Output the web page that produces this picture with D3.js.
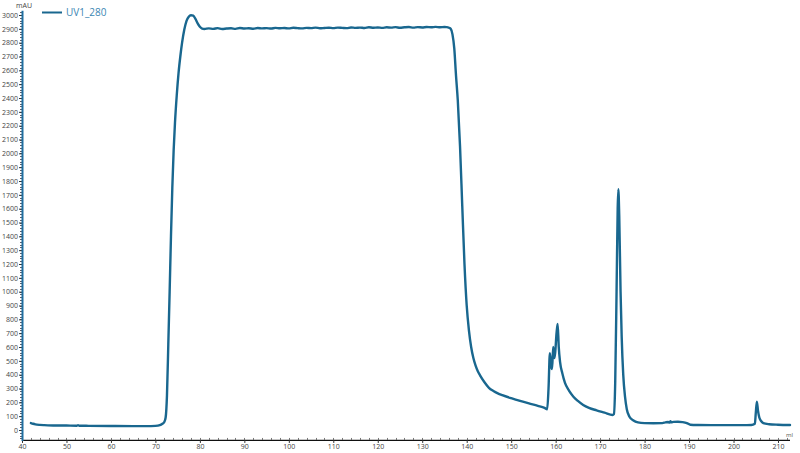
<!DOCTYPE html>
<html>
<head>
<meta charset="utf-8">
<script src="https://cdn.jsdelivr.net/npm/d3@7"></script>
<style>
  html, body { margin: 0; padding: 0; background: #ffffff; }
  svg { display: block; }
  text { font-family: "Open Sans", "Noto Sans", sans-serif; }
</style>
</head>
<body>
<svg id="chart" width="800" height="453"></svg>
<script>
// ---- data ----
const seriesName = "UV1_280";
const yUnit = "mAU";
const xUnit = "ml";
const yTickValues = d3.range(0, 3001, 100);
const xTickValues = d3.range(40, 211, 10);

const volume = [
  42, 42.5, 43, 44, 45, 47, 50, 52.3, 52.6, 52.9, 55, 60, 65, 68, 70, 71, 71.5, 72, 72.3, 72.6,
  72.9, 73.2, 73.5, 73.8, 74.1, 74.4, 74.8, 75.2, 75.6, 76, 76.5, 77, 77.5, 78, 78.5, 79, 79.5, 80, 80.5,
  81, 82, 83, 84, 85, 86, 87, 88, 89, 90, 91, 92, 93, 94, 95, 96, 97, 98, 99, 100,
  101, 102, 103, 104, 105, 106, 107, 108, 109, 110, 111, 112, 113, 114, 115, 116, 117, 118, 119, 120,
  121, 122, 123, 124, 125, 126, 127, 128, 129, 130, 131, 132, 133, 134, 135, 135.5,
  136, 136.4, 136.8, 137.2, 137.6, 138, 138.5, 139, 139.5, 140, 140.5, 141, 141.5, 142, 142.5, 143, 144,
  145, 146, 147, 148, 150, 152, 154, 156, 157.5, 158.1, 158.4, 158.7, 158.95, 159.2, 159.45, 159.7,
  159.9, 160.2, 160.45, 160.7, 161, 161.5, 162.1, 163, 164, 165, 166.2, 167.5, 169.2, 171, 172.8,
  173.1, 173.4, 173.7, 173.95, 174.1, 174.3, 174.6, 174.85, 175.2, 175.6, 176, 176.6, 177.5, 178.5,
  180, 182, 184, 184.7, 185.3, 185.6, 185.8, 186, 186.5, 187.5, 188.5, 189.5, 190.3, 192, 195, 200,
  204, 204.8, 205, 205.25, 205.5, 205.8, 206.2, 206.7, 208, 210, 212.7
];

const absorbance = [
  50, 45, 41, 37, 35, 33, 32, 31, 34, 31, 30, 29, 28, 28, 30, 36, 44, 58, 90, 250,
  620, 1000, 1400, 1750, 2020, 2220, 2420, 2580, 2700, 2800, 2895, 2958, 2988, 2998, 2995, 2972, 2940, 2915, 2902,
  2899, 2903, 2900, 2905, 2899, 2902, 2904, 2900, 2906, 2902, 2904, 2901, 2906, 2903, 2905, 2902, 2907, 2904, 2906, 2903,
  2908, 2905, 2903, 2907, 2905, 2909, 2904, 2906, 2908, 2905, 2909, 2907, 2905, 2910, 2907, 2909, 2906, 2911, 2908, 2910,
  2907, 2911, 2909, 2912, 2908, 2911, 2913, 2909, 2912, 2910, 2913, 2911, 2914, 2911, 2913, 2912,
  2908, 2900, 2860, 2760, 2560, 2380, 2050, 1620, 1200, 900, 720, 600, 520, 465, 425, 395, 345,
  305, 282, 265, 252, 230, 210, 192, 175, 160, 150, 300, 555, 470, 440, 600, 520,
  560, 700, 766, 600, 490, 410, 340, 285, 241, 210, 181, 160, 142, 125, 108,
  115, 350, 1000, 1600, 1740, 1550, 1000, 675, 400, 241, 150, 96, 68, 55,
  50, 49, 50, 55, 58, 53, 64, 55, 59, 60, 57, 50, 38, 36, 35, 35,
  36, 45, 120, 205, 140, 90, 65, 50, 42, 38, 36
];

// ---- chart ----
const lineColor = "#19678f";
const svg = d3.select("#chart");

const x = d3.scaleLinear().domain([40, 212.7]).range([22, 790]);
const y = d3.scaleLinear().domain([0, 3000]).range([430, 15]);

const points = volume.map((v, i) => ({ v, a: absorbance[i] }));

// X axis
const xAxisY = y(-72);
const gx = svg.append("g").attr("transform", `translate(0,${xAxisY})`);
gx.append("line").attr("x1", x(40)).attr("x2", x(212.7)).attr("y1", 0.5).attr("y2", 0.5)
  .attr("stroke", "#111").attr("stroke-width", 1.2);
gx.selectAll("line.minor").data(d3.range(40, 213, 2)).join("line")
  .attr("class", "minor")
  .attr("x1", d => Math.round(x(d)) + 0.5).attr("x2", d => Math.round(x(d)) + 0.5)
  .attr("y1", -2).attr("y2", 0).attr("stroke", "#555").attr("stroke-width", 0.8);
const xAxis = d3.axisBottom(x).tickValues(xTickValues).tickSize(3).tickFormat(d3.format("d"));
const gxa = gx.append("g").call(xAxis);
gxa.select(".domain").remove();
gxa.selectAll(".tick line").attr("stroke", "#333");
gxa.selectAll(".tick text").attr("fill", "#444").attr("font-size", 7).attr("dy", "0.5em");
gx.append("text").attr("x", 786).attr("y", -3).attr("font-size", 6).attr("fill", "#555").text(xUnit);

// Y axis
const axisX = x(40);
const gy = svg.append("g");
gy.selectAll("line.minor").data(d3.range(-60, 3031, 20)).join("line")
  .attr("class", "minor")
  .attr("x1", axisX - 2).attr("x2", axisX)
  .attr("y1", d => Math.round(y(d)) + 0.5).attr("y2", d => Math.round(y(d)) + 0.5)
  .attr("stroke", "#334").attr("stroke-width", 0.8);
const yAxis = d3.axisLeft(y).tickValues(yTickValues).tickSize(3).tickFormat(d3.format("d"));
const gya = gy.append("g").attr("transform", `translate(${axisX},0)`).call(yAxis);
gya.select(".domain").remove();
gya.selectAll(".tick line").attr("stroke", "#333");
gya.selectAll(".tick text").attr("fill", "#444").attr("font-size", 7).attr("x", -4);
gy.append("line").attr("x1", axisX + 0.5).attr("x2", axisX + 0.5)
  .attr("y1", y(3030)).attr("y2", xAxisY + 1)
  .attr("stroke", "#1f6ea0").attr("stroke-width", 2);
svg.append("text").attr("x", 24).attr("y", 8).attr("text-anchor", "middle")
  .attr("font-size", 7).attr("fill", "#444").text(yUnit);

// Line
const line = d3.line().x(d => x(d.v)).y(d => y(d.a)).curve(d3.curveMonotoneX);
svg.append("path").datum(points).attr("d", line)
  .attr("fill", "none").attr("stroke", lineColor).attr("stroke-width", 2.4)
  .attr("stroke-linejoin", "round").attr("stroke-linecap", "round");

// Legend
const lg = svg.append("g");
lg.append("line").attr("x1", 42).attr("x2", 62).attr("y1", 12.5).attr("y2", 12.5)
  .attr("stroke", lineColor).attr("stroke-width", 2);
lg.append("text").attr("x", 66).attr("y", 16).attr("font-size", 10).attr("fill", "#3b86b3").text(seriesName);
</script>
</body>
</html>
